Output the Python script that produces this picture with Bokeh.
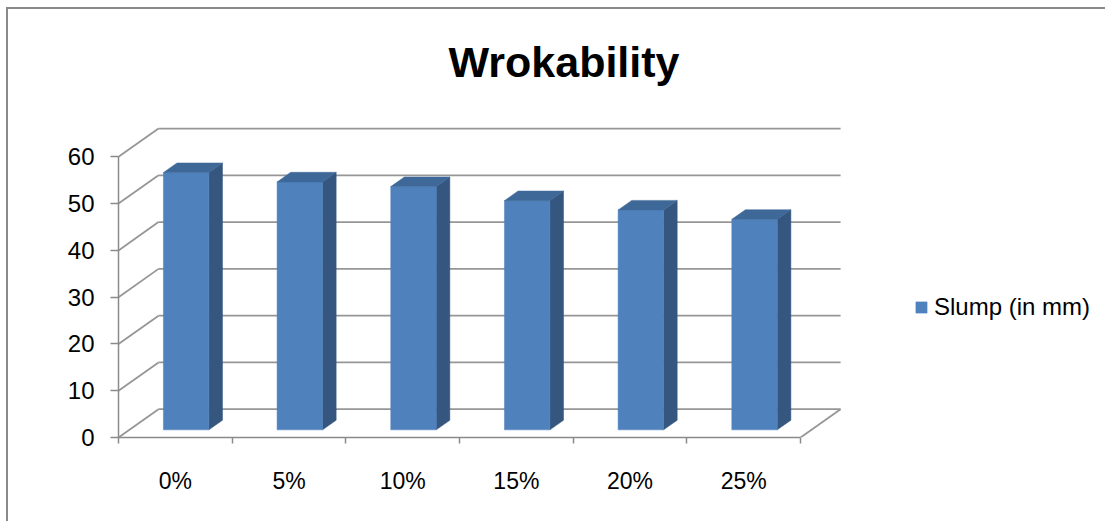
from bokeh.plotting import figure
from bokeh.models import LinearAxis, FixedTicker, Range1d, Legend, LegendItem
from bokeh.embed import file_html
from bokeh.resources import INLINE

# ---- data ----
categories = ["0%", "5%", "10%", "15%", "20%", "25%"]
slump = [55, 53, 52, 49, 47, 45]
y_ticks = [0, 10, 20, 30, 40, 50, 60]
title_text = "Wrokability"
series_name = "Slump (in mm)"

# ---- style / geometry ----
FONT = "Liberation Sans"
DX, DY = 0.352, 6.05      # 3D depth shear (data units)
D0, D1 = 0.27, 0.61       # bar depth span (fraction of floor depth)
HALF = 0.2                # half bar width (category units)
GRID = "#969696"
AXIS = "#8a8a8a"
FRONT, SIDE, TOP = "#4F81BD", "#34567F", "#3E6898"

n = len(categories)
centers = [i + 0.5 for i in range(n)]

p = figure(width=1099, height=514,
           x_range=Range1d(0, 8.7), y_range=Range1d(0, 70.12),
           output_backend="svg", toolbar_location=None,
           x_axis_location=None, y_axis_location=None,
           min_border_left=110, min_border_right=0,
           min_border_top=100, min_border_bottom=86)
p.outline_line_color = None
p.xgrid.visible = False
p.ygrid.visible = False
p.styles = {"margin-left": "6px", "margin-top": "7px",
            "border-left": "2px solid #8a8a8a", "border-top": "2px solid #8a8a8a"}

# title
p.title.text = title_text
p.title.align = "left"
p.title.offset = 330
p.title.text_font = FONT
p.title.text_font_size = "43px"
p.title.text_font_style = "bold"
p.title.text_color = "black"
p.title.standoff = 48

# gridlines: back wall + side wall + floor edge
gx, gy = [], []
top_val = y_ticks[-1]
for v in y_ticks:
    gx.append([DX, n + DX]); gy.append([v + DY, v + DY])
    gx.append([0, DX]); gy.append([v, v + DY])
gx.append([n, n + DX]); gy.append([0, DY])
p.multi_line(gx, gy, line_color=GRID, line_width=1.8)

# bars
fx, fy, sx, sy, tx, ty = [], [], [], [], [], []
for c, v in zip(centers, slump):
    l0, r0 = c - HALF + D0 * DX, c + HALF + D0 * DX
    l1, r1 = c - HALF + D1 * DX, c + HALF + D1 * DX
    b0, b1 = D0 * DY, D1 * DY
    fx.append([l0, r0, r0, l0]); fy.append([b0, b0, v + b0, v + b0])
    sx.append([r0, r1, r1, r0]); sy.append([b0, b1, v + b1, v + b0])
    tx.append([l0, r0, r1, l1]); ty.append([v + b0, v + b0, v + b1, v + b1])

p.patches(sx, sy, fill_color=SIDE, line_color=SIDE, line_width=0.5)
front_r = p.patches(fx, fy, fill_color=FRONT, line_color=FRONT, line_width=0.5)
p.patches(tx, ty, fill_color=TOP, line_color=TOP, line_width=0.5)

# y axis (front left edge)
yaxis = LinearAxis(ticker=FixedTicker(ticks=y_ticks, minor_ticks=[]), bounds=(0, top_val))
yaxis.axis_line_color = AXIS
yaxis.axis_line_width = 1.5
yaxis.major_tick_line_color = AXIS
yaxis.major_tick_line_width = 1.5
yaxis.major_tick_out = 8
yaxis.major_tick_in = 0
yaxis.minor_tick_line_color = None
yaxis.major_label_text_font = FONT
yaxis.major_label_text_font_size = "24px"
yaxis.major_label_text_color = "black"
yaxis.major_label_standoff = 16
p.add_layout(yaxis, "left")

# x axis (front floor edge)
xaxis = LinearAxis(ticker=FixedTicker(ticks=centers, minor_ticks=list(range(n + 1))), bounds=(0, n))
xaxis.major_label_overrides = {c: lab for c, lab in zip(centers, categories)}
xaxis.axis_line_color = AXIS
xaxis.axis_line_width = 1.5
xaxis.major_tick_line_color = None
xaxis.major_tick_out = 0
xaxis.major_tick_in = 0
xaxis.minor_tick_line_color = AXIS
xaxis.minor_tick_line_width = 1.5
xaxis.minor_tick_out = 6
xaxis.minor_tick_in = 0
xaxis.major_label_text_font = FONT
xaxis.major_label_text_font_size = "23px"
xaxis.major_label_text_color = "black"
xaxis.major_label_standoff = 24
p.add_layout(xaxis, "below")

# legend
legend = Legend(items=[LegendItem(label=series_name, renderers=[front_r])],
                location=(796, 116), padding=0, margin=0, spacing=0,
                border_line_color=None, background_fill_alpha=0,
                glyph_width=14, glyph_height=14, label_standoff=6,
                label_text_font=FONT, label_text_font_size="24px",
                label_text_color="black")
p.add_layout(legend)

open("out.html", "w").write(file_html(p, INLINE))
